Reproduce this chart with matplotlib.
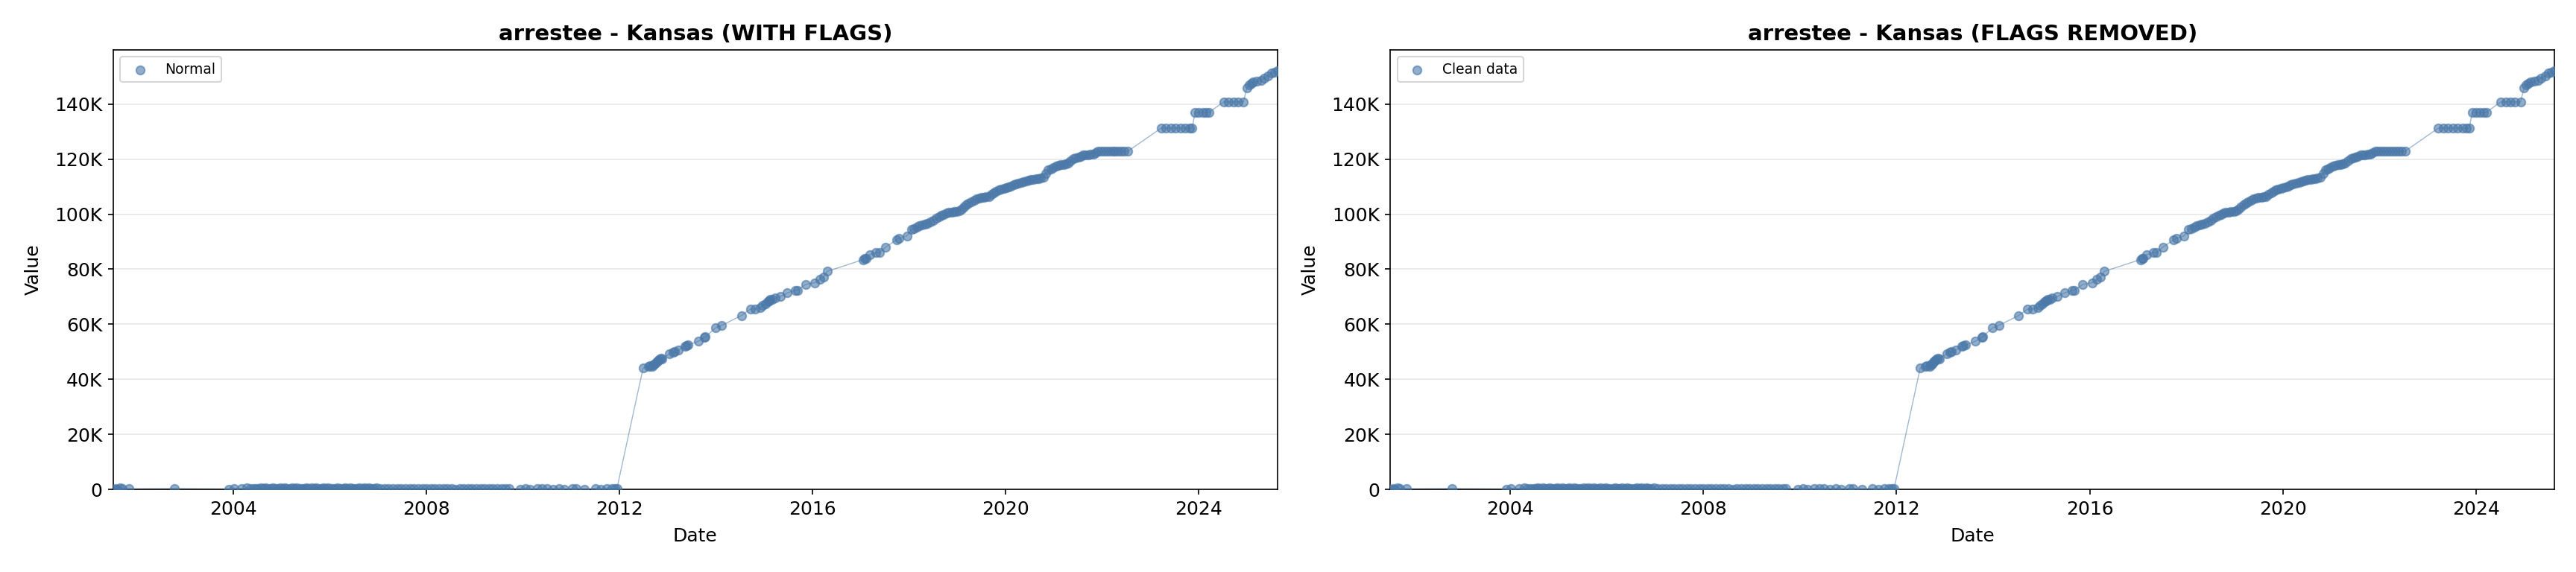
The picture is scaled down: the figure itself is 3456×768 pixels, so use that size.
import matplotlib
matplotlib.use("Agg")
import matplotlib.pyplot as plt
import matplotlib.dates as mdates
from matplotlib.ticker import FuncFormatter
from datetime import datetime

# dates as decimal years, values in thousands
early_years = [2001.52, 2001.57, 2001.61, 2001.66, 2001.71, 2001.85, 2002.79,
               2003.92, 2004.02, 2004.18, 2004.29, 2004.36,
               2004.42, 2004.47, 2004.52, 2004.57, 2004.62, 2004.67, 2004.72,
               2004.77, 2004.82, 2004.87, 2004.92, 2004.97,
               2005.02, 2005.07, 2005.12, 2005.17, 2005.22, 2005.27, 2005.32,
               2005.37, 2005.42, 2005.47, 2005.52, 2005.57, 2005.62, 2005.67,
               2005.72, 2005.77, 2005.82, 2005.87, 2005.92, 2005.97,
               2006.02, 2006.07, 2006.12, 2006.17, 2006.22, 2006.27, 2006.32,
               2006.37, 2006.42, 2006.47, 2006.52, 2006.57, 2006.62, 2006.67,
               2006.72, 2006.77, 2006.82, 2006.87, 2006.92, 2006.97,
               2007.05, 2007.14, 2007.22, 2007.31, 2007.40, 2007.48, 2007.57,
               2007.66, 2007.74, 2007.83, 2007.92,
               2008.00, 2008.09, 2008.17, 2008.26, 2008.35, 2008.43, 2008.52,
               2008.61, 2008.69, 2008.78, 2008.87, 2008.95,
               2009.04, 2009.12, 2009.21, 2009.30, 2009.38, 2009.47, 2009.56,
               2009.64, 2009.71,
               2009.95, 2010.06, 2010.15, 2010.30, 2010.40, 2010.50, 2010.62,
               2010.75, 2010.85, 2011.02, 2011.10, 2011.28, 2011.50, 2011.62,
               2011.74, 2011.84, 2011.90, 2011.95]
early_values = [0.12, 0.31, 0.08, 0.42, 0.22, 0.15, 0.26,
                0.10, 0.38, 0.19, 0.55, 0.33,
                0.41, 0.27, 0.36, 0.52, 0.30, 0.44, 0.29,
                0.35, 0.48, 0.26, 0.39, 0.45,
                0.31, 0.50, 0.37, 0.28, 0.43, 0.34, 0.47,
                0.25, 0.40, 0.36, 0.51, 0.29, 0.42, 0.33,
                0.46, 0.38, 0.27, 0.44, 0.35, 0.49,
                0.30, 0.41, 0.36, 0.53, 0.28, 0.39, 0.45,
                0.32, 0.47, 0.26, 0.40, 0.37, 0.50, 0.31,
                0.43, 0.35, 0.48, 0.29, 0.38, 0.42,
                0.21, 0.34, 0.18, 0.27, 0.40, 0.15, 0.31,
                0.24, 0.36, 0.19, 0.28,
                0.33, 0.17, 0.29, 0.38, 0.22, 0.26, 0.35,
                0.14, 0.30, 0.25, 0.37, 0.20,
                0.28, 0.34, 0.16, 0.31, 0.23, 0.39, 0.27,
                0.18, 0.32,
                0.11, 0.24, 0.09, 0.20, 0.15, 0.27, 0.12,
                0.22, 0.08, 0.18, 0.25, 0.10, 0.21, 0.14,
                0.26, 0.17, 0.30, 0.35]

growth_years = [2012.49, 2012.60, 2012.63, 2012.68, 2012.70, 2012.73, 2012.75,
                2012.78, 2012.80, 2012.83, 2012.86, 2012.88,
                2013.04, 2013.11, 2013.14, 2013.22, 2013.35, 2013.38, 2013.42,
                2013.63, 2013.76, 2013.78, 2013.99, 2014.12,
                2014.53, 2014.71, 2014.81, 2014.92, 2014.97, 2015.02, 2015.07,
                2015.10, 2015.12, 2015.17, 2015.22, 2015.33, 2015.48, 2015.64,
                2015.69, 2015.86, 2016.05, 2016.15, 2016.23, 2016.30,
                2017.05, 2017.08, 2017.10, 2017.18, 2017.31, 2017.38, 2017.51,
                2017.74, 2017.79, 2017.95,
                2018.05, 2018.10, 2018.16, 2018.21, 2018.27, 2018.32, 2018.38,
                2018.44, 2018.50, 2018.56, 2018.62, 2018.67, 2018.72, 2018.77,
                2018.82, 2018.88, 2018.93, 2018.98, 2019.03, 2019.08, 2019.13,
                2019.18, 2019.23, 2019.28, 2019.34, 2019.39, 2019.45, 2019.50,
                2019.55, 2019.60, 2019.65, 2019.70, 2019.75, 2019.80, 2019.85,
                2019.90, 2019.96, 2020.01, 2020.06, 2020.11, 2020.16, 2020.21,
                2020.26, 2020.32, 2020.37, 2020.42, 2020.47, 2020.52, 2020.57,
                2020.62, 2020.67, 2020.72, 2020.78, 2020.83, 2020.88, 2020.93,
                2020.98, 2021.04, 2021.09, 2021.14, 2021.19, 2021.24, 2021.29,
                2021.34, 2021.40, 2021.45, 2021.50, 2021.55, 2021.60, 2021.65,
                2021.70, 2021.76, 2021.81, 2021.86, 2021.91, 2021.97, 2022.03,
                2022.09, 2022.15, 2022.21, 2022.27, 2022.33, 2022.39, 2022.45,
                2022.53]
growth_values = [44.1, 44.7, 44.9, 44.7, 45.2, 45.6, 46.0,
                 46.5, 46.9, 47.4, 47.6, 47.4,
                 49.3, 49.7, 50.0, 50.6, 52.0, 52.2, 52.4,
                 53.8, 55.3, 55.4, 58.7, 59.6,
                 63.2, 65.5, 65.5, 66.0, 66.8, 67.5, 68.2,
                 68.6, 68.9, 69.1, 69.5, 70.0, 71.4, 72.3,
                 72.4, 74.5, 75.1, 76.3, 77.2, 79.2,
                 83.5, 83.8, 84.0, 85.3, 86.0, 86.0, 88.0,
                 90.7, 91.2, 92.1,
                 94.4, 94.8, 95.3, 95.7, 96.1, 96.4, 96.7,
                 97.2, 97.8, 98.4, 99.0, 99.5, 100.0, 100.4,
                 100.7, 100.8, 100.9, 101.0, 101.1, 101.9, 102.7,
                 103.4, 104.0, 104.5, 105.1, 105.6, 105.8, 106.0,
                 106.2, 106.4, 106.5, 107.1, 107.7, 108.3, 108.7,
                 109.0, 109.4, 109.7, 110.0, 110.3, 110.7, 111.0,
                 111.3, 111.6, 111.9, 112.1, 112.4, 112.6, 112.7,
                 112.9, 113.0, 113.1, 113.3, 114.8, 116.0, 116.5,
                 117.0, 117.4, 117.7, 117.9, 118.1, 118.3, 118.5,
                 119.3, 120.1, 120.5, 120.8, 121.1, 121.4, 121.5,
                 121.6, 121.8, 121.9, 122.3, 122.8, 122.8, 122.9,
                 122.9, 122.9, 122.9, 122.9, 122.9, 122.9, 122.9,
                 122.9]

recent_years = [2023.22, 2023.32, 2023.42, 2023.52, 2023.62, 2023.72, 2023.80,
                2023.86, 2023.92, 2024.00, 2024.08, 2024.15, 2024.21,
                2024.51, 2024.61, 2024.71, 2024.81, 2024.92,
                2024.99, 2025.04, 2025.08, 2025.12, 2025.20, 2025.28, 2025.35,
                2025.43, 2025.50, 2025.56, 2025.62]
recent_values = [131.3, 131.3, 131.3, 131.3, 131.3, 131.3, 131.3,
                 131.3, 137.0, 137.0, 137.0, 137.0, 137.0,
                 140.8, 140.8, 140.8, 140.8, 140.8,
                 145.8, 147.1, 147.5, 148.0, 148.2, 148.6, 149.4,
                 150.3, 151.2, 151.6, 152.1]

panels = [("arrestee - Kansas (WITH FLAGS)", "Normal"),
          ("arrestee - Kansas (FLAGS REMOVED)", "Clean data")]

color = '#4a78a8'


def to_date(y):
    year = int(y)
    start = datetime(year, 1, 1)
    return start + (datetime(year + 1, 1, 1) - start) * (y - year)


years = early_years + growth_years + recent_years
values = [v * 1000 for v in early_values + growth_values + recent_values]
dates = [to_date(y) for y in years]


def kfmt(x, pos):
    if x == 0:
        return '0'
    return '%dK' % round(x / 1000)


fig, axes = plt.subplots(1, 2, figsize=(23.04, 5.12), dpi=150)
fig.subplots_adjust(left=0.044, right=0.9916, bottom=0.1445, top=0.9128,
                    wspace=0.0973)

for ax, (title, label) in zip(axes, panels):
    ax.plot(dates, values, color=color, alpha=0.5, linewidth=0.7, zorder=2)
    ax.scatter(dates, values, s=30, color=color, alpha=0.6, label=label,
               zorder=3)
    ax.set_xlim(min(dates), max(dates))
    ax.set_ylim(0, max(values) * 1.05)
    ax.xaxis.set_major_locator(mdates.YearLocator(4))
    ax.xaxis.set_major_formatter(mdates.DateFormatter('%Y'))
    ax.yaxis.set_major_formatter(FuncFormatter(kfmt))
    ax.grid(axis='y', alpha=0.3)
    ax.set_axisbelow(True)
    ax.tick_params(labelsize=12)
    ax.set_title(title, fontsize=14, fontweight='bold')
    ax.set_xlabel('Date', fontsize=12, labelpad=6)
    ax.set_ylabel('Value', fontsize=12, labelpad=8)
    ax.legend(loc='upper left', fontsize=9)

plt.savefig('out.png')
